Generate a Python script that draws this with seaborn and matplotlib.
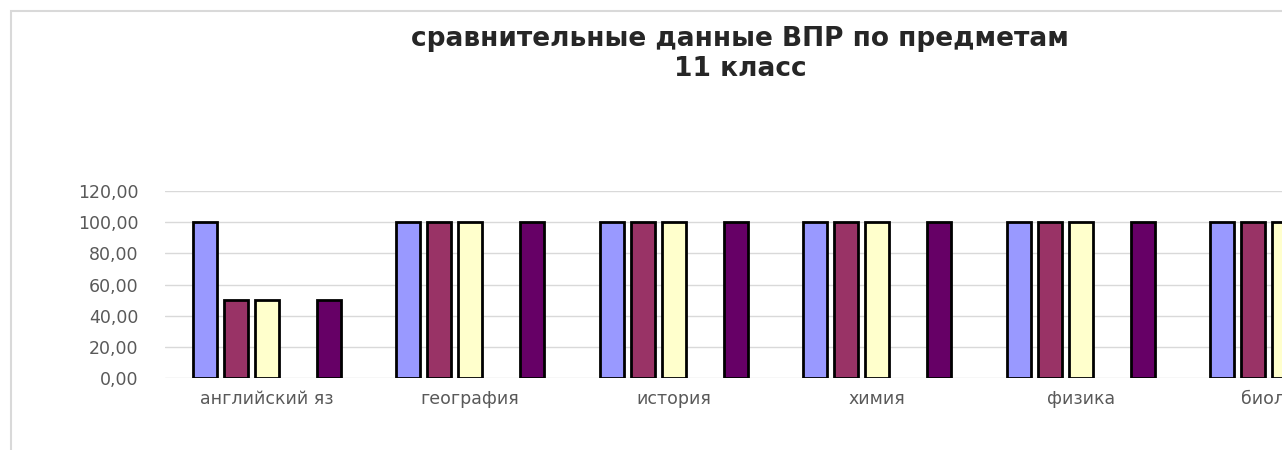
import numpy as np
import pandas as pd
import seaborn as sns
import matplotlib.pyplot as plt
from matplotlib.patches import Rectangle

# данные
subjects = ['английский яз', 'география', 'история', 'химия', 'физика', 'биология']
series_names = ['ряд 1', 'ряд 2', 'ряд 3', 'ряд 4', 'ряд 5']
s1 = [100, 100, 100, 100, 100, 100]
s2 = [50, 100, 100, 100, 100, 100]
s3 = [50, 100, 100, 100, 100, 100]
s4 = [np.nan, np.nan, np.nan, np.nan, np.nan, np.nan]
s5 = [50, 100, 100, 100, 100, 100]
colors = ['#9999FF', '#993366', '#FFFFCC', '#CCFFFF', '#660066']
y_ticks = [0, 20, 40, 60, 80, 100, 120]
y_labels = ['0,00', '20,00', '40,00', '60,00', '80,00', '100,00', '120,00']

rows = []
for name, vals in zip(series_names, [s1, s2, s3, s4, s5]):
    for subj, v in zip(subjects, vals):
        rows.append({'предмет': subj, 'ряд': name, 'значение': v})
df = pd.DataFrame(rows).dropna()

sns.set_theme(style='white')
plt.rcParams['font.family'] = ['DejaVu Sans']

W, H = 1282, 450
fig = plt.figure(figsize=(W / 100, H / 100), dpi=100)

# рамка диаграммы
fig.patches.append(Rectangle((11 / W, -0.1), 2, (H - 11) / H + 0.1,
                             transform=fig.transFigure, fill=False,
                             edgecolor='#D9D9D9', linewidth=1.5))

ax = fig.add_axes([165 / W, 72 / H, 1221 / W, 187 / H])
sns.barplot(data=df, x='предмет', y='значение', hue='ряд',
            order=subjects, hue_order=series_names,
            palette=dict(zip(series_names, colors)), saturation=1,
            width=0.762, gap=0.24, edgecolor='black', linewidth=2,
            errorbar=None, legend=False, ax=ax, zorder=3)

ax.set_xlim(-0.5, 5.5)
ax.set_ylim(0, 120)
ax.set_yticks(y_ticks)
ax.set_yticklabels(y_labels)
ax.yaxis.grid(True, color='#D9D9D9', linewidth=1)
ax.set_axisbelow(True)
for sp in ax.spines.values():
    sp.set_visible(False)
ax.tick_params(axis='y', length=0, pad=19, labelsize=12.5, labelcolor='#595959')
ax.tick_params(axis='x', length=0, pad=9, labelsize=12.5, labelcolor='#595959')
ax.set_xlabel('')
ax.set_ylabel('')

fig.text(740 / W, 1 - 54 / H, 'сравнительные данные ВПР по предметам\n11 класс',
         ha='center', va='center', fontsize=19, fontweight='bold',
         color='#262626', linespacing=1.2)

fig.savefig('out.png', dpi=100)
